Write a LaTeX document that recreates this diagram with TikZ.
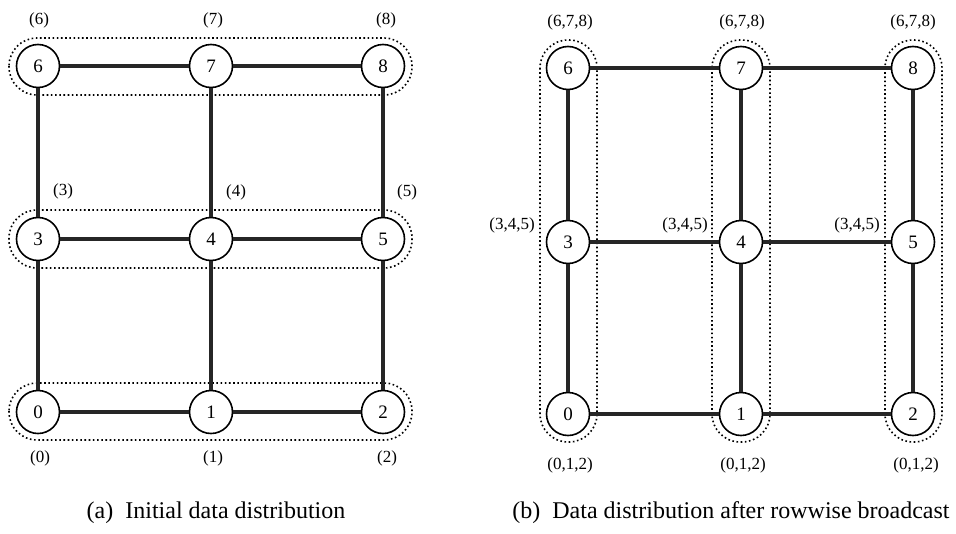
\documentclass[tikz,border=0pt]{standalone}
\usepackage{fontspec}
\setmainfont{Liberation Serif}
\begin{document}
\begin{tikzpicture}[x=1pt,y=-1pt,
  proc/.style={circle, draw, line width=1.6pt, fill=white, minimum size=43pt,
    inner sep=0pt, font=\fontsize{19}{19}\selectfont},
  link/.style={line width=3.2pt, draw=black!85},
  group/.style={line width=1.6pt, dash pattern=on 1.6pt off 2.6pt,
    rounded corners=28pt},
  dlabel/.style={inner sep=0pt, font=\fontsize{17}{17}\selectfont},
  capt/.style={inner sep=0pt, font=\fontsize{24}{24}\selectfont}]
\useasboundingbox (0,0) rectangle (956,533);

% ---------- (a) initial data distribution ----------
% row groups
\draw[group] (9,38)  rectangle (412,95);
\draw[group] (9,210) rectangle (412,268);
\draw[group] (9,383) rectangle (412,440);

\node[proc] (a6) at (38,66)  {6};
\node[proc] (a7) at (211,66) {7};
\node[proc] (a8) at (383,66) {8};
\node[proc] (a3) at (38,239)  {3};
\node[proc] (a4) at (211,239) {4};
\node[proc] (a5) at (383,239) {5};
\node[proc] (a0) at (38,412)  {0};
\node[proc] (a1) at (211,412) {1};
\node[proc] (a2) at (383,412) {2};

\foreach \u/\v in {a6/a7,a7/a8,a3/a4,a4/a5,a0/a1,a1/a2,
                   a6/a3,a3/a0,a7/a4,a4/a1,a8/a5,a5/a2}
  \draw[link] (\u) -- (\v);

\node[dlabel] (la6) at (39,20)  {(6)};
\node[dlabel] (la7) at (213,20) {(7)};
\node[dlabel] (la8) at (386,20) {(8)};
\node[dlabel] (la3) at (63,191)  {(3)};
\node[dlabel] (la4) at (236,192) {(4)};
\node[dlabel] (la5) at (407,192) {(5)};
\node[dlabel] (la0) at (40,458)  {(0)};
\node[dlabel] (la1) at (213,458) {(1)};
\node[dlabel] (la2) at (387,458) {(2)};

\node[capt] (capa) at (216,513) {(a)\enspace Initial data distribution};

% ---------- (b) after rowwise broadcast ----------
% column groups
\draw[group] (540,40) rectangle (597,442);
\draw[group] (712,40) rectangle (770,442);
\draw[group] (885,40) rectangle (942,442);

\node[proc] (b6) at (568,68)  {6};
\node[proc] (b7) at (741,68)  {7};
\node[proc] (b8) at (913,68)  {8};
\node[proc] (b3) at (568,242) {3};
\node[proc] (b4) at (741,242) {4};
\node[proc] (b5) at (913,242) {5};
\node[proc] (b0) at (568,414) {0};
\node[proc] (b1) at (741,414) {1};
\node[proc] (b2) at (913,414) {2};

\foreach \u/\v in {b6/b7,b7/b8,b3/b4,b4/b5,b0/b1,b1/b2,
                   b6/b3,b3/b0,b7/b4,b4/b1,b8/b5,b5/b2}
  \draw[link] (\u) -- (\v);

\node[dlabel] (lb6) at (570,22) {(6,7,8)};
\node[dlabel] (lb7) at (742,22) {(6,7,8)};
\node[dlabel] (lb8) at (913,22) {(6,7,8)};
\node[dlabel] (lb3) at (512,225) {(3,4,5)};
\node[dlabel] (lb4) at (685,225) {(3,4,5)};
\node[dlabel] (lb5) at (857,225) {(3,4,5)};
\node[dlabel] (lb0) at (570,465) {(0,1,2)};
\node[dlabel] (lb1) at (743,465) {(0,1,2)};
\node[dlabel] (lb2) at (916,465) {(0,1,2)};

\node[capt] (capb) at (731,513) {(b)\enspace Data distribution after rowwise broadcast};
\end{tikzpicture}
\end{document}
